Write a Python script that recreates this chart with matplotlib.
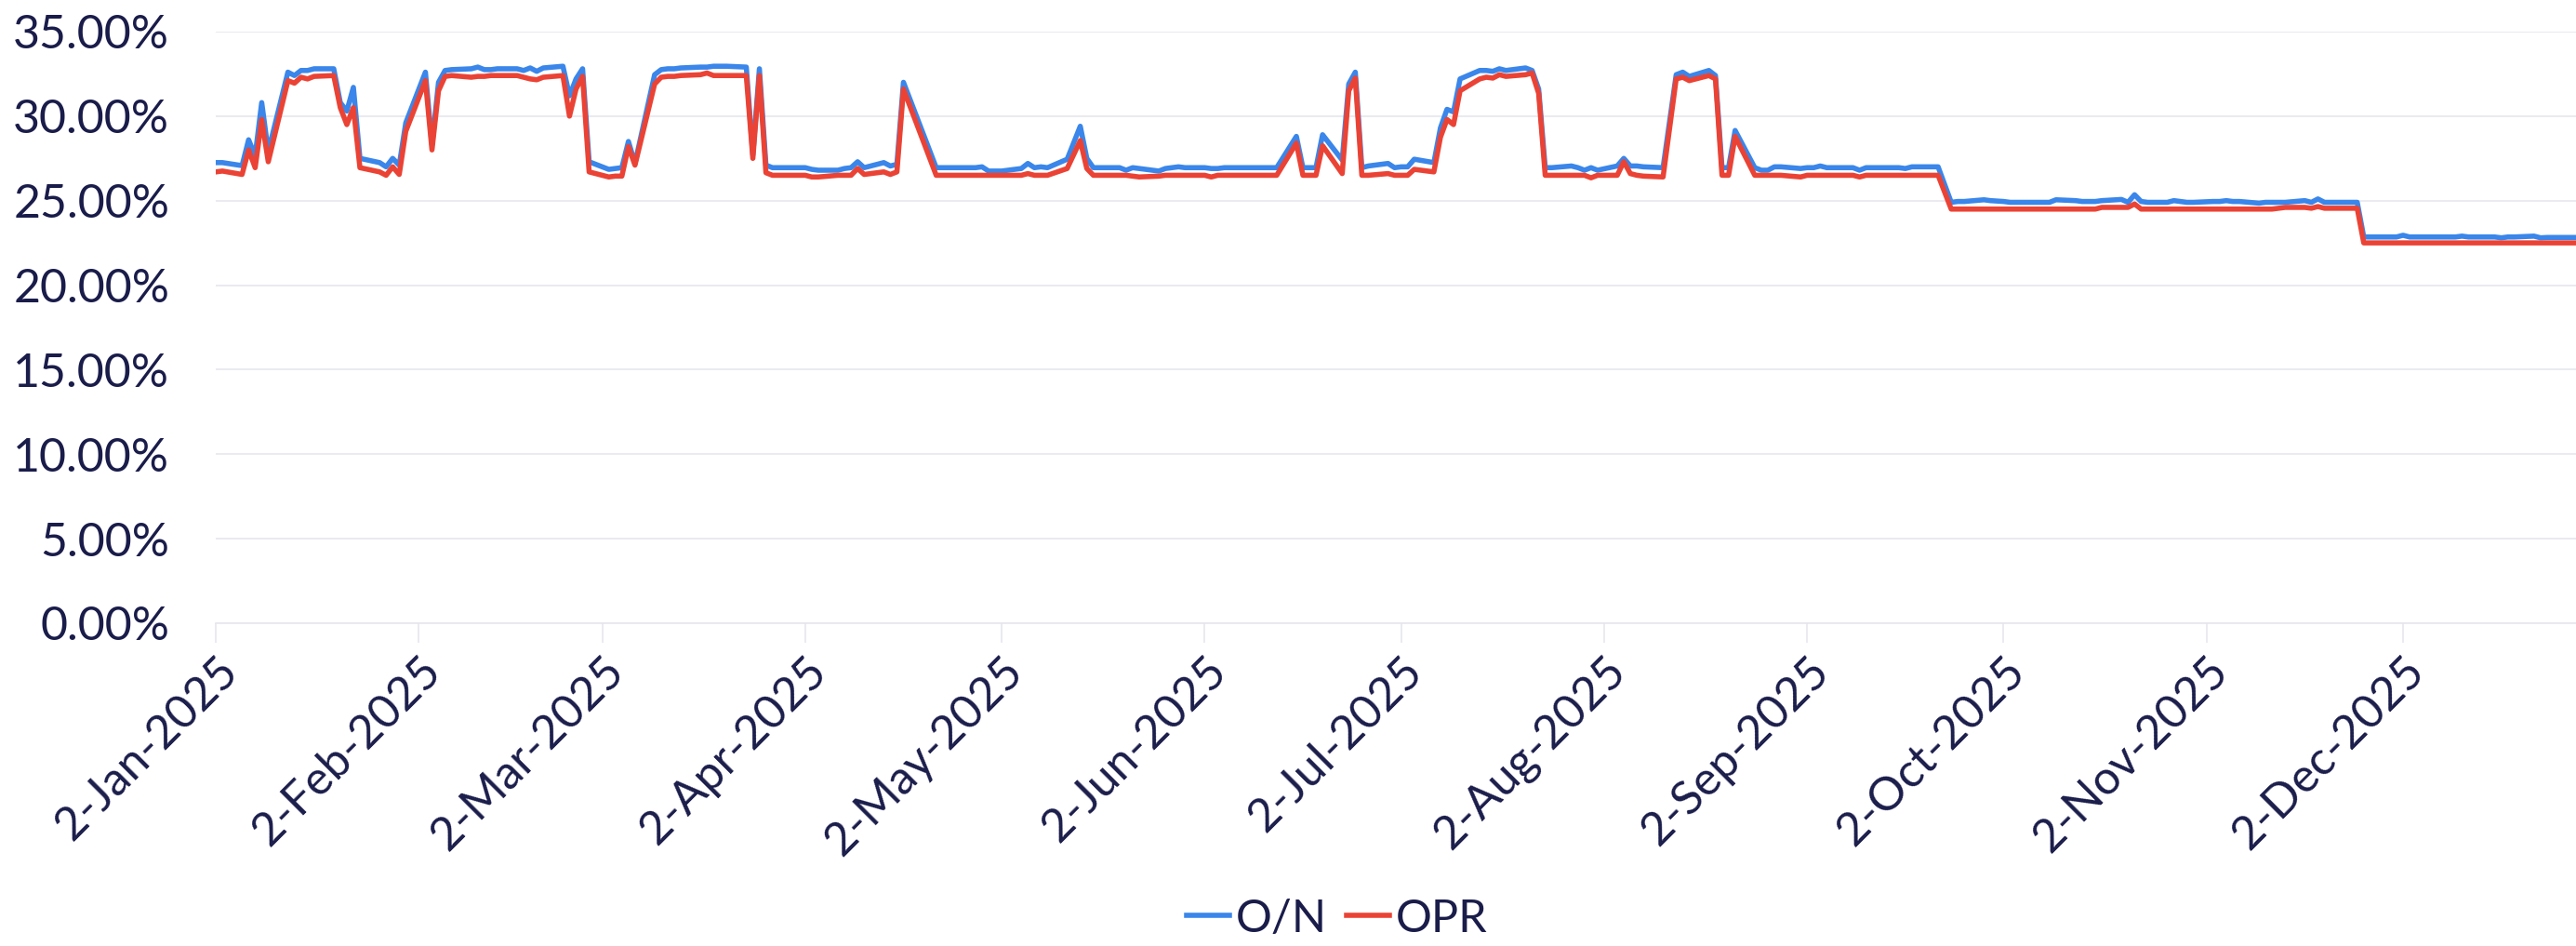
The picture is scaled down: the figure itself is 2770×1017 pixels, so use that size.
import matplotlib
matplotlib.use("Agg")
import matplotlib.pyplot as plt
import matplotlib.dates as mdates
from matplotlib.ticker import PercentFormatter, MultipleLocator
import pandas as pd

dates = [
    "2025-01-02", "2025-01-03", "2025-01-06", "2025-01-07", "2025-01-08", "2025-01-09", "2025-01-10",
    "2025-01-13", "2025-01-14", "2025-01-15", "2025-01-16", "2025-01-17", "2025-01-20", "2025-01-21",
    "2025-01-22", "2025-01-23", "2025-01-24", "2025-01-27", "2025-01-28", "2025-01-29", "2025-01-30",
    "2025-01-31", "2025-02-03", "2025-02-04", "2025-02-05", "2025-02-06", "2025-02-07", "2025-02-10",
    "2025-02-11", "2025-02-12", "2025-02-13", "2025-02-14", "2025-02-17", "2025-02-18", "2025-02-19",
    "2025-02-20", "2025-02-21", "2025-02-24", "2025-02-25", "2025-02-26", "2025-02-27", "2025-02-28",
    "2025-03-03", "2025-03-04", "2025-03-05", "2025-03-06", "2025-03-07", "2025-03-10", "2025-03-11",
    "2025-03-12", "2025-03-13", "2025-03-14", "2025-03-17", "2025-03-18", "2025-03-19", "2025-03-20",
    "2025-03-21", "2025-03-24", "2025-03-25", "2025-03-26", "2025-03-27", "2025-03-28", "2025-04-02",
    "2025-04-03", "2025-04-04", "2025-04-07", "2025-04-08", "2025-04-09", "2025-04-10", "2025-04-11",
    "2025-04-14", "2025-04-15", "2025-04-16", "2025-04-17", "2025-04-22", "2025-04-23", "2025-04-24",
    "2025-04-25", "2025-04-28", "2025-04-29", "2025-04-30", "2025-05-02", "2025-05-05", "2025-05-06",
    "2025-05-07", "2025-05-08", "2025-05-09", "2025-05-12", "2025-05-14", "2025-05-15", "2025-05-16",
    "2025-05-19", "2025-05-20", "2025-05-21", "2025-05-22", "2025-05-23", "2025-05-26", "2025-05-27",
    "2025-05-28", "2025-05-29", "2025-05-30", "2025-06-02", "2025-06-03", "2025-06-04", "2025-06-05",
    "2025-06-09", "2025-06-10", "2025-06-11", "2025-06-13", "2025-06-16", "2025-06-17", "2025-06-18",
    "2025-06-19", "2025-06-20", "2025-06-23", "2025-06-24", "2025-06-25", "2025-06-26", "2025-06-27",
    "2025-06-30", "2025-07-01", "2025-07-02", "2025-07-03", "2025-07-04", "2025-07-07", "2025-07-08",
    "2025-07-09", "2025-07-10", "2025-07-11", "2025-07-14", "2025-07-15", "2025-07-16", "2025-07-17",
    "2025-07-18", "2025-07-21", "2025-07-22", "2025-07-23", "2025-07-24", "2025-07-25", "2025-07-28",
    "2025-07-29", "2025-07-30", "2025-07-31", "2025-08-01", "2025-08-04", "2025-08-05", "2025-08-06",
    "2025-08-07", "2025-08-08", "2025-08-11", "2025-08-13", "2025-08-14", "2025-08-15", "2025-08-18",
    "2025-08-19", "2025-08-20", "2025-08-21", "2025-08-22", "2025-08-25", "2025-08-26", "2025-08-27",
    "2025-08-28", "2025-08-29", "2025-09-01", "2025-09-02", "2025-09-03", "2025-09-04", "2025-09-05",
    "2025-09-08", "2025-09-09", "2025-09-10", "2025-09-11", "2025-09-12", "2025-09-15", "2025-09-16",
    "2025-09-17", "2025-09-18", "2025-09-19", "2025-09-22", "2025-09-24", "2025-09-25", "2025-09-26",
    "2025-09-29", "2025-09-30", "2025-10-02", "2025-10-03", "2025-10-06", "2025-10-07", "2025-10-08",
    "2025-10-09", "2025-10-10", "2025-10-13", "2025-10-14", "2025-10-15", "2025-10-16", "2025-10-17",
    "2025-10-20", "2025-10-21", "2025-10-22", "2025-10-23", "2025-10-24", "2025-10-27", "2025-10-28",
    "2025-10-29", "2025-10-30", "2025-10-31", "2025-11-03", "2025-11-04", "2025-11-05", "2025-11-06",
    "2025-11-07", "2025-11-10", "2025-11-11", "2025-11-12", "2025-11-13", "2025-11-14", "2025-11-17",
    "2025-11-18", "2025-11-19", "2025-11-20", "2025-11-21", "2025-11-24", "2025-11-25", "2025-11-26",
    "2025-11-27", "2025-11-28", "2025-12-01", "2025-12-02", "2025-12-03", "2025-12-04", "2025-12-05",
    "2025-12-08", "2025-12-09", "2025-12-10", "2025-12-11", "2025-12-12", "2025-12-15", "2025-12-16",
    "2025-12-17", "2025-12-18", "2025-12-19", "2025-12-22", "2025-12-23", "2025-12-24", "2025-12-29",
]

# overnight interbank rate, %
on_rate = [
    27.25, 27.25, 27.07, 28.60, 27.65, 30.80, 27.90,
    32.60, 32.40, 32.70, 32.70, 32.80, 32.80, 30.80,
    30.30, 31.70, 27.50, 27.25, 27.00, 27.50, 27.10,
    29.60, 32.60, 28.30, 32.00, 32.70, 32.75, 32.80,
    32.90, 32.75, 32.75, 32.80, 32.80, 32.70, 32.85,
    32.65, 32.85, 32.95, 31.20, 32.20, 32.80, 27.30,
    26.85, 26.90, 26.95, 28.50, 27.20, 32.45, 32.75,
    32.80, 32.80, 32.85, 32.90, 32.90, 32.95, 32.95,
    32.95, 32.90, 27.70, 32.80, 27.10, 26.95, 26.95,
    26.85, 26.80, 26.80, 26.90, 26.95, 27.30, 26.95,
    27.25, 27.05, 27.15, 32.00, 26.95, 26.95, 26.95,
    26.95, 26.95, 27.00, 26.75, 26.75, 26.90, 27.20,
    26.95, 27.00, 26.95, 27.45, 29.40, 27.50, 26.95,
    26.95, 26.95, 26.80, 26.95, 26.90, 26.75, 26.90,
    26.95, 27.00, 26.95, 26.95, 26.90, 26.90, 26.95,
    26.95, 26.95, 26.95, 26.95, 28.80, 26.95, 26.95,
    26.95, 28.90, 27.40, 31.90, 32.60, 26.95, 27.05,
    27.20, 26.95, 27.00, 27.00, 27.45, 27.25, 29.30,
    30.40, 30.25, 32.20, 32.70, 32.70, 32.65, 32.80,
    32.70, 32.85, 32.70, 31.60, 26.95, 26.95, 27.05,
    26.95, 26.80, 26.95, 26.80, 27.05, 27.50, 27.05,
    27.05, 27.00, 26.95, 32.45, 32.60, 32.35, 32.70,
    32.40, 26.95, 26.95, 29.15, 26.95, 26.80, 26.80,
    27.00, 27.00, 26.90, 26.95, 26.95, 27.05, 26.95,
    26.95, 26.95, 26.80, 26.95, 26.95, 26.95, 26.95,
    26.90, 27.00, 27.00, 27.00, 24.90, 24.95, 24.95,
    25.05, 25.00, 24.95, 24.90, 24.90, 24.90, 24.90,
    24.90, 25.05, 25.00, 24.95, 24.95, 24.95, 25.00,
    25.07, 24.90, 25.35, 24.95, 24.90, 24.90, 25.00,
    24.95, 24.90, 24.90, 24.95, 24.95, 25.00, 24.95,
    24.95, 24.85, 24.90, 24.90, 24.90, 24.90, 25.00,
    24.90, 25.10, 24.90, 24.90, 24.90, 24.90, 22.85,
    22.85, 22.85, 22.85, 22.95, 22.85, 22.85, 22.85,
    22.85, 22.85, 22.85, 22.90, 22.85, 22.85, 22.85,
    22.80, 22.85, 22.85, 22.90, 22.80, 22.82, 22.82,
]

# open buy back rate, %
opr_rate = [
    26.70, 26.75, 26.55, 28.00, 26.95, 29.80, 27.30,
    32.10, 31.95, 32.30, 32.20, 32.35, 32.40, 30.50,
    29.50, 30.50, 26.95, 26.70, 26.50, 27.00, 26.55,
    29.10, 32.10, 28.00, 31.50, 32.35, 32.40, 32.30,
    32.35, 32.35, 32.40, 32.40, 32.40, 32.30, 32.20,
    32.15, 32.30, 32.40, 30.00, 31.60, 32.35, 26.70,
    26.40, 26.45, 26.45, 28.20, 27.10, 31.90, 32.30,
    32.35, 32.35, 32.40, 32.45, 32.55, 32.40, 32.40,
    32.40, 32.40, 27.50, 32.40, 26.65, 26.50, 26.50,
    26.40, 26.40, 26.50, 26.50, 26.50, 26.90, 26.55,
    26.70, 26.55, 26.70, 31.60, 26.50, 26.50, 26.50,
    26.50, 26.50, 26.50, 26.50, 26.50, 26.50, 26.60,
    26.50, 26.50, 26.50, 26.90, 28.55, 26.90, 26.50,
    26.50, 26.50, 26.50, 26.45, 26.40, 26.45, 26.50,
    26.50, 26.50, 26.50, 26.50, 26.40, 26.50, 26.50,
    26.50, 26.50, 26.50, 26.50, 28.40, 26.50, 26.50,
    26.50, 28.25, 26.60, 31.50, 32.25, 26.50, 26.50,
    26.60, 26.50, 26.50, 26.50, 26.85, 26.70, 28.75,
    29.80, 29.50, 31.50, 32.20, 32.30, 32.25, 32.45,
    32.35, 32.45, 32.55, 31.35, 26.50, 26.50, 26.50,
    26.50, 26.50, 26.35, 26.50, 26.50, 27.30, 26.60,
    26.50, 26.45, 26.40, 32.20, 32.30, 32.10, 32.40,
    32.20, 26.50, 26.50, 28.80, 26.50, 26.50, 26.50,
    26.50, 26.50, 26.40, 26.50, 26.50, 26.50, 26.50,
    26.50, 26.50, 26.40, 26.50, 26.50, 26.50, 26.50,
    26.50, 26.50, 26.50, 26.50, 24.50, 24.50, 24.50,
    24.50, 24.50, 24.50, 24.50, 24.50, 24.50, 24.50,
    24.50, 24.50, 24.50, 24.50, 24.50, 24.50, 24.60,
    24.60, 24.60, 24.80, 24.50, 24.50, 24.50, 24.50,
    24.50, 24.50, 24.50, 24.50, 24.50, 24.50, 24.50,
    24.50, 24.50, 24.50, 24.50, 24.55, 24.60, 24.60,
    24.55, 24.65, 24.55, 24.55, 24.55, 24.55, 22.50,
    22.50, 22.50, 22.50, 22.50, 22.50, 22.50, 22.50,
    22.50, 22.50, 22.50, 22.50, 22.50, 22.50, 22.50,
    22.50, 22.50, 22.50, 22.50, 22.50, 22.50, 22.50,
]

# axis ticks fall on the 2nd of every month
tick_dates = [
    "2025-01-02", "2025-02-02", "2025-03-02", "2025-04-02", "2025-05-02", "2025-06-02",
    "2025-07-02", "2025-08-02", "2025-09-02", "2025-10-02", "2025-11-02", "2025-12-02",
]

x = pd.to_datetime(dates)

TEXT = "#1a1c4a"
GRID = "#e6e6ee"
plt.rcParams["font.family"] = ["Lato", "DejaVu Sans"]

fig = plt.figure(figsize=(27.7, 10.17), dpi=100)
ax = fig.add_axes([0.0838, 0.3412, 0.9177, 0.6254])

ax.plot(x, on_rate, color="#3a86ea", lw=4.0, label="O/N", solid_joinstyle="round")
ax.plot(x, opr_rate, color="#ea4335", lw=4.0, label="OPR", solid_joinstyle="round")

ax.set_ylim(0, 35)
ax.set_xlim(pd.Timestamp("2025-01-02"), pd.Timestamp("2025-12-29"))
ax.yaxis.set_major_locator(MultipleLocator(5))
ax.yaxis.set_major_formatter(PercentFormatter(xmax=100, decimals=2))
ax.set_xticks(pd.to_datetime(tick_dates))
ax.xaxis.set_major_formatter(mdates.DateFormatter("%-d-%b-%Y"))

ax.grid(axis="y", color=GRID, lw=1.2)
ax.set_axisbelow(True)
for side in ["top", "right", "left"]:
    ax.spines[side].set_visible(False)
ax.spines["bottom"].set_color(GRID)
ax.spines["bottom"].set_linewidth(1.2)

ax.tick_params(axis="y", length=0, pad=36, labelsize=36, labelcolor=TEXT)
ax.tick_params(axis="x", length=15, width=1.2, color=GRID, pad=5, labelsize=36, labelcolor=TEXT)
for lbl in ax.get_xticklabels():
    lbl.set_rotation(45)
    lbl.set_ha("right")
    lbl.set_va("top")
    lbl.set_rotation_mode("anchor")

fig.legend(loc="center", bbox_to_anchor=(0.519, 0.029), ncol=2, frameon=False,
           fontsize=35, labelcolor=TEXT, handlelength=0.95, handletextpad=0.12,
           columnspacing=0.45)

fig.savefig("out.png", dpi=100)
